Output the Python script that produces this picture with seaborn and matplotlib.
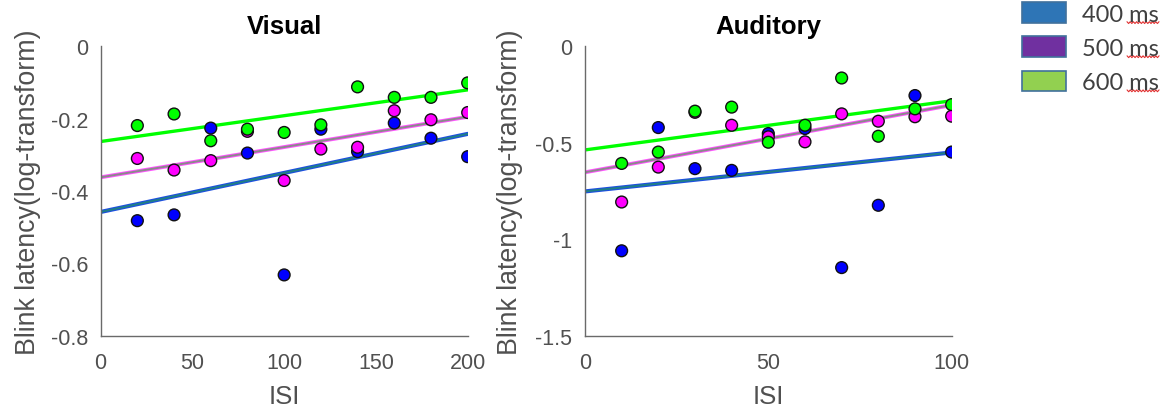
import numpy as np
import pandas as pd
import seaborn as sns
import matplotlib
matplotlib.use("Agg")
import matplotlib.pyplot as plt
import matplotlib.patheffects as pe
from matplotlib.patches import Patch
from matplotlib.lines import Line2D

# ---- data -------------------------------------------------------------
conditions = ["400 ms", "500 ms", "600 ms"]

visual_isi = [20, 40, 60, 80, 100, 120, 140, 160, 180, 200]
visual_400 = [-0.482, -0.466, -0.226, -0.295, -0.632, -0.229, -0.291, -0.212, -0.254, -0.305]
visual_500 = [-0.310, -0.342, -0.316, -0.235, -0.371, -0.284, -0.279, -0.178, -0.203, -0.183]
visual_600 = [-0.219, -0.187, -0.261, -0.229, -0.238, -0.217, -0.112, -0.141, -0.141, -0.101]

auditory_isi = [10, 20, 30, 40, 50, 60, 70, 80, 90, 100]
auditory_400 = [-1.060, -0.421, -0.634, -0.643, -0.452, -0.426, -1.147, -0.824, -0.255, -0.548]
auditory_500 = [-0.807, -0.626, -0.342, -0.409, -0.469, -0.495, -0.350, -0.388, -0.365, -0.362]
auditory_600 = [-0.607, -0.548, -0.336, -0.315, -0.497, -0.409, -0.164, -0.466, -0.324, -0.302]

visual_xticks = [0, 50, 100, 150, 200]
visual_yticks = [0, -0.2, -0.4, -0.6, -0.8]
auditory_xticks = [0, 50, 100]
auditory_yticks = [0, -0.5, -1, -1.5]


def long_form(isi, series):
    frames = [pd.DataFrame({"ISI": isi, "latency": vals, "cond": c})
              for c, vals in zip(conditions, series)]
    return pd.concat(frames, ignore_index=True)


visual_df = long_form(visual_isi, [visual_400, visual_500, visual_600])
auditory_df = long_form(auditory_isi, [auditory_400, auditory_500, auditory_600])

# ---- styles -----------------------------------------------------------
sns.set_theme(style="white")
plt.rcParams["font.family"] = ["Liberation Sans", "DejaVu Sans"]

point_colors = {"400 ms": "#0000ff", "500 ms": "#ff00ff", "600 ms": "#00ff00"}
fit_styles = {
    "400 ms": dict(color="#1f7f86", lw=1.4,
                   path_effects=[pe.Stroke(linewidth=3.0, foreground="#1d4fe0"), pe.Normal()]),
    "500 ms": dict(color="#8a8a8a", lw=1.4,
                   path_effects=[pe.Stroke(linewidth=2.8, foreground="#ff55ff"), pe.Normal()]),
    "600 ms": dict(color="#00ff00", lw=2.4),
}
legend_colors = {"400 ms": "#2e75b6", "500 ms": "#7030a0", "600 ms": "#92d050"}

axis_grey = "#6a6a6a"
text_grey = "#505050"

fig = plt.figure(figsize=(11.73, 4.14), dpi=100)
ax_v = fig.add_axes([0.0858, 0.1868, 0.3129, 0.6988])
ax_a = fig.add_axes([0.4987, 0.1868, 0.3126, 0.6988])


def draw_panel(ax, df, title, xlim, ylim, xticks, yticks, ylabel_x):
    ax.set_xlim(*xlim)
    ax.set_ylim(*ylim)
    for c in conditions:
        sub = df[df["cond"] == c]
        sns.regplot(data=sub, x="ISI", y="latency", ax=ax, scatter=False,
                    ci=None, truncate=False, line_kws=fit_styles[c])
    sns.scatterplot(data=df, x="ISI", y="latency", hue="cond", palette=point_colors,
                    s=72, edgecolor="#111111", linewidth=1.0, ax=ax, legend=False,
                    zorder=3)
    ax.set_xlim(*xlim)
    ax.set_ylim(*ylim)
    ax.set_xticks(xticks)
    ax.set_yticks(yticks)
    ax.set_xticklabels([f"{t:g}" for t in xticks])
    ax.set_yticklabels([f"{t:g}" for t in yticks])
    ax.tick_params(direction="in", length=3, width=1, colors=axis_grey,
                   labelcolor=text_grey, labelsize=15.5, pad=12)
    ax.tick_params(axis="y", pad=9)
    for side in ("top", "right"):
        ax.spines[side].set_visible(False)
    for side in ("left", "bottom"):
        ax.spines[side].set_color(axis_grey)
        ax.spines[side].set_linewidth(1.0)
    ax.set_xlabel("ISI", fontsize=18.5, color=text_grey, labelpad=8)
    ax.set_ylabel("Blink latency(log-transform)", fontsize=19.3, color=text_grey)
    ax.yaxis.set_label_coords(ylabel_x, 0.5)
    ax.set_title(title, fontsize=18.5, fontweight="bold", color="black", pad=9.5)


draw_panel(ax_v, visual_df, "Visual", (0, 200), (-0.8, 0),
           visual_xticks, visual_yticks, -0.162)
draw_panel(ax_a, auditory_df, "Auditory", (0, 100), (-1.5, 0),
           auditory_xticks, auditory_yticks, -0.17)

handles = [Patch(facecolor=legend_colors[c], edgecolor="#41719c", linewidth=1.2)
           for c in conditions]
leg = fig.legend(handles, conditions, loc="upper left", bbox_to_anchor=(0.8715, 0.992),
                 frameon=False, borderpad=0.0, borderaxespad=0.0,
                 handlelength=1.85, handleheight=0.95,
                 handletextpad=0.7, labelspacing=0.5,
                 prop={"family": ["Lato", "DejaVu Sans"], "size": 17},
                 labelcolor="#404040")

# proofing squiggle under the unit of each legend label
fig.canvas.draw()
renderer = fig.canvas.get_renderer()
for txt in leg.get_texts():
    bb = txt.get_window_extent(renderer)
    x0 = bb.x1 - 0.42 * bb.width
    xs = np.arange(x0, bb.x1 + 0.5, 1.6)
    ys = bb.y0 + 2.0 + np.where(np.arange(len(xs)) % 2 == 0, 0.9, -0.9)
    fig.add_artist(Line2D(xs, ys, transform=None, color="#e03030", lw=0.8))

fig.savefig("out.png", dpi=100)
